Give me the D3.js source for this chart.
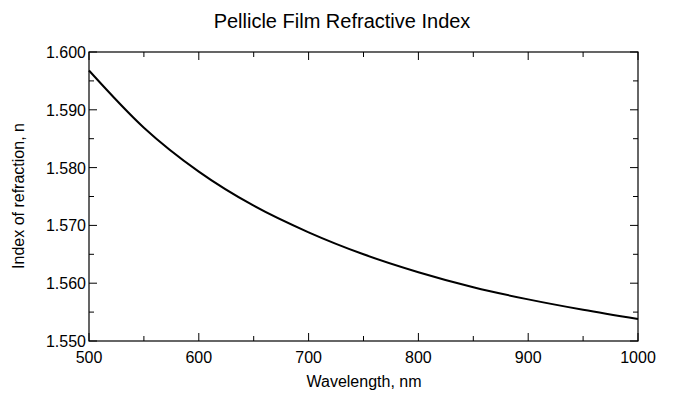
<!DOCTYPE html>
<html><head><meta charset="utf-8">
<script src="https://cdn.jsdelivr.net/npm/d3@7"></script>
<style>body{margin:0;background:#fff}text{font-family:"Liberation Sans",Arial,sans-serif}</style>
</head><body><svg id="c" width="690" height="402"></svg>
<script>
const wavelengths=[500,550,600,650,700,750,800,850,900,950,1000];
const indexN=[1.5968,1.5869,1.5793,1.5734,1.5688,1.5650,1.5619,1.5593,1.5572,1.5554,1.5538];
const xTicks=[500,600,700,800,900,1000];
const yTicks=[1.55,1.56,1.57,1.58,1.59,1.60];
const svg=d3.select("#c");
const L=89,R=638,T=52,B=341;
const x=d3.scaleLinear().domain([500,1000]).range([L,R]);
const y=d3.scaleLinear().domain([1.55,1.60]).range([B,T]);
const g=svg.append("g");
const xMinor=d3.range(550,1000,100), yMinor=d3.range(1.555,1.6,0.01);
function tk(sel){sel.attr("stroke","#000").attr("stroke-width",1);}
// ticks
xTicks.forEach(v=>{g.append("line").attr("x1",x(v)).attr("x2",x(v)).attr("y1",B).attr("y2",B-8).call(tk);
 g.append("line").attr("x1",x(v)).attr("x2",x(v)).attr("y1",T).attr("y2",T+8).call(tk);});
xMinor.forEach(v=>{g.append("line").attr("x1",x(v)).attr("x2",x(v)).attr("y1",B).attr("y2",B-5).call(tk);
 g.append("line").attr("x1",x(v)).attr("x2",x(v)).attr("y1",T).attr("y2",T+5).call(tk);});
yTicks.forEach(v=>{g.append("line").attr("y1",y(v)).attr("y2",y(v)).attr("x1",L).attr("x2",L+8).call(tk);
 g.append("line").attr("y1",y(v)).attr("y2",y(v)).attr("x1",R).attr("x2",R-8).call(tk);});
yMinor.forEach(v=>{g.append("line").attr("y1",y(v)).attr("y2",y(v)).attr("x1",L).attr("x2",L+5).call(tk);
 g.append("line").attr("y1",y(v)).attr("y2",y(v)).attr("x1",R).attr("x2",R-5).call(tk);});
g.append("rect").attr("x",L).attr("y",T).attr("width",R-L).attr("height",B-T).attr("fill","none").attr("stroke","#000").attr("stroke-width",1.2);
xTicks.forEach(v=>g.append("text").attr("x",x(v)).attr("y",B+22).attr("text-anchor","middle").attr("font-size",16).text(v));
yTicks.forEach(v=>g.append("text").attr("x",L-3).attr("y",y(v)+6).attr("text-anchor","end").attr("font-size",16).text(d3.format(".3f")(v)));
svg.append("path").datum(wavelengths.map((w,i)=>[w,indexN[i]])).attr("fill","none").attr("stroke","#000").attr("stroke-width",2)
 .attr("d",d3.line().x(d=>x(d[0])).y(d=>y(d[1])).curve(d3.curveMonotoneX));
svg.append("text").attr("x",342).attr("y",28).attr("text-anchor","middle").attr("font-size",20).text("Pellicle Film Refractive Index");
svg.append("text").attr("x",364).attr("y",387).attr("text-anchor","middle").attr("font-size",16).text("Wavelength, nm");
svg.append("text").attr("transform","translate(24,196) rotate(-90)").attr("text-anchor","middle").attr("font-size",16).text("Index of refraction, n");
</script></body></html>
